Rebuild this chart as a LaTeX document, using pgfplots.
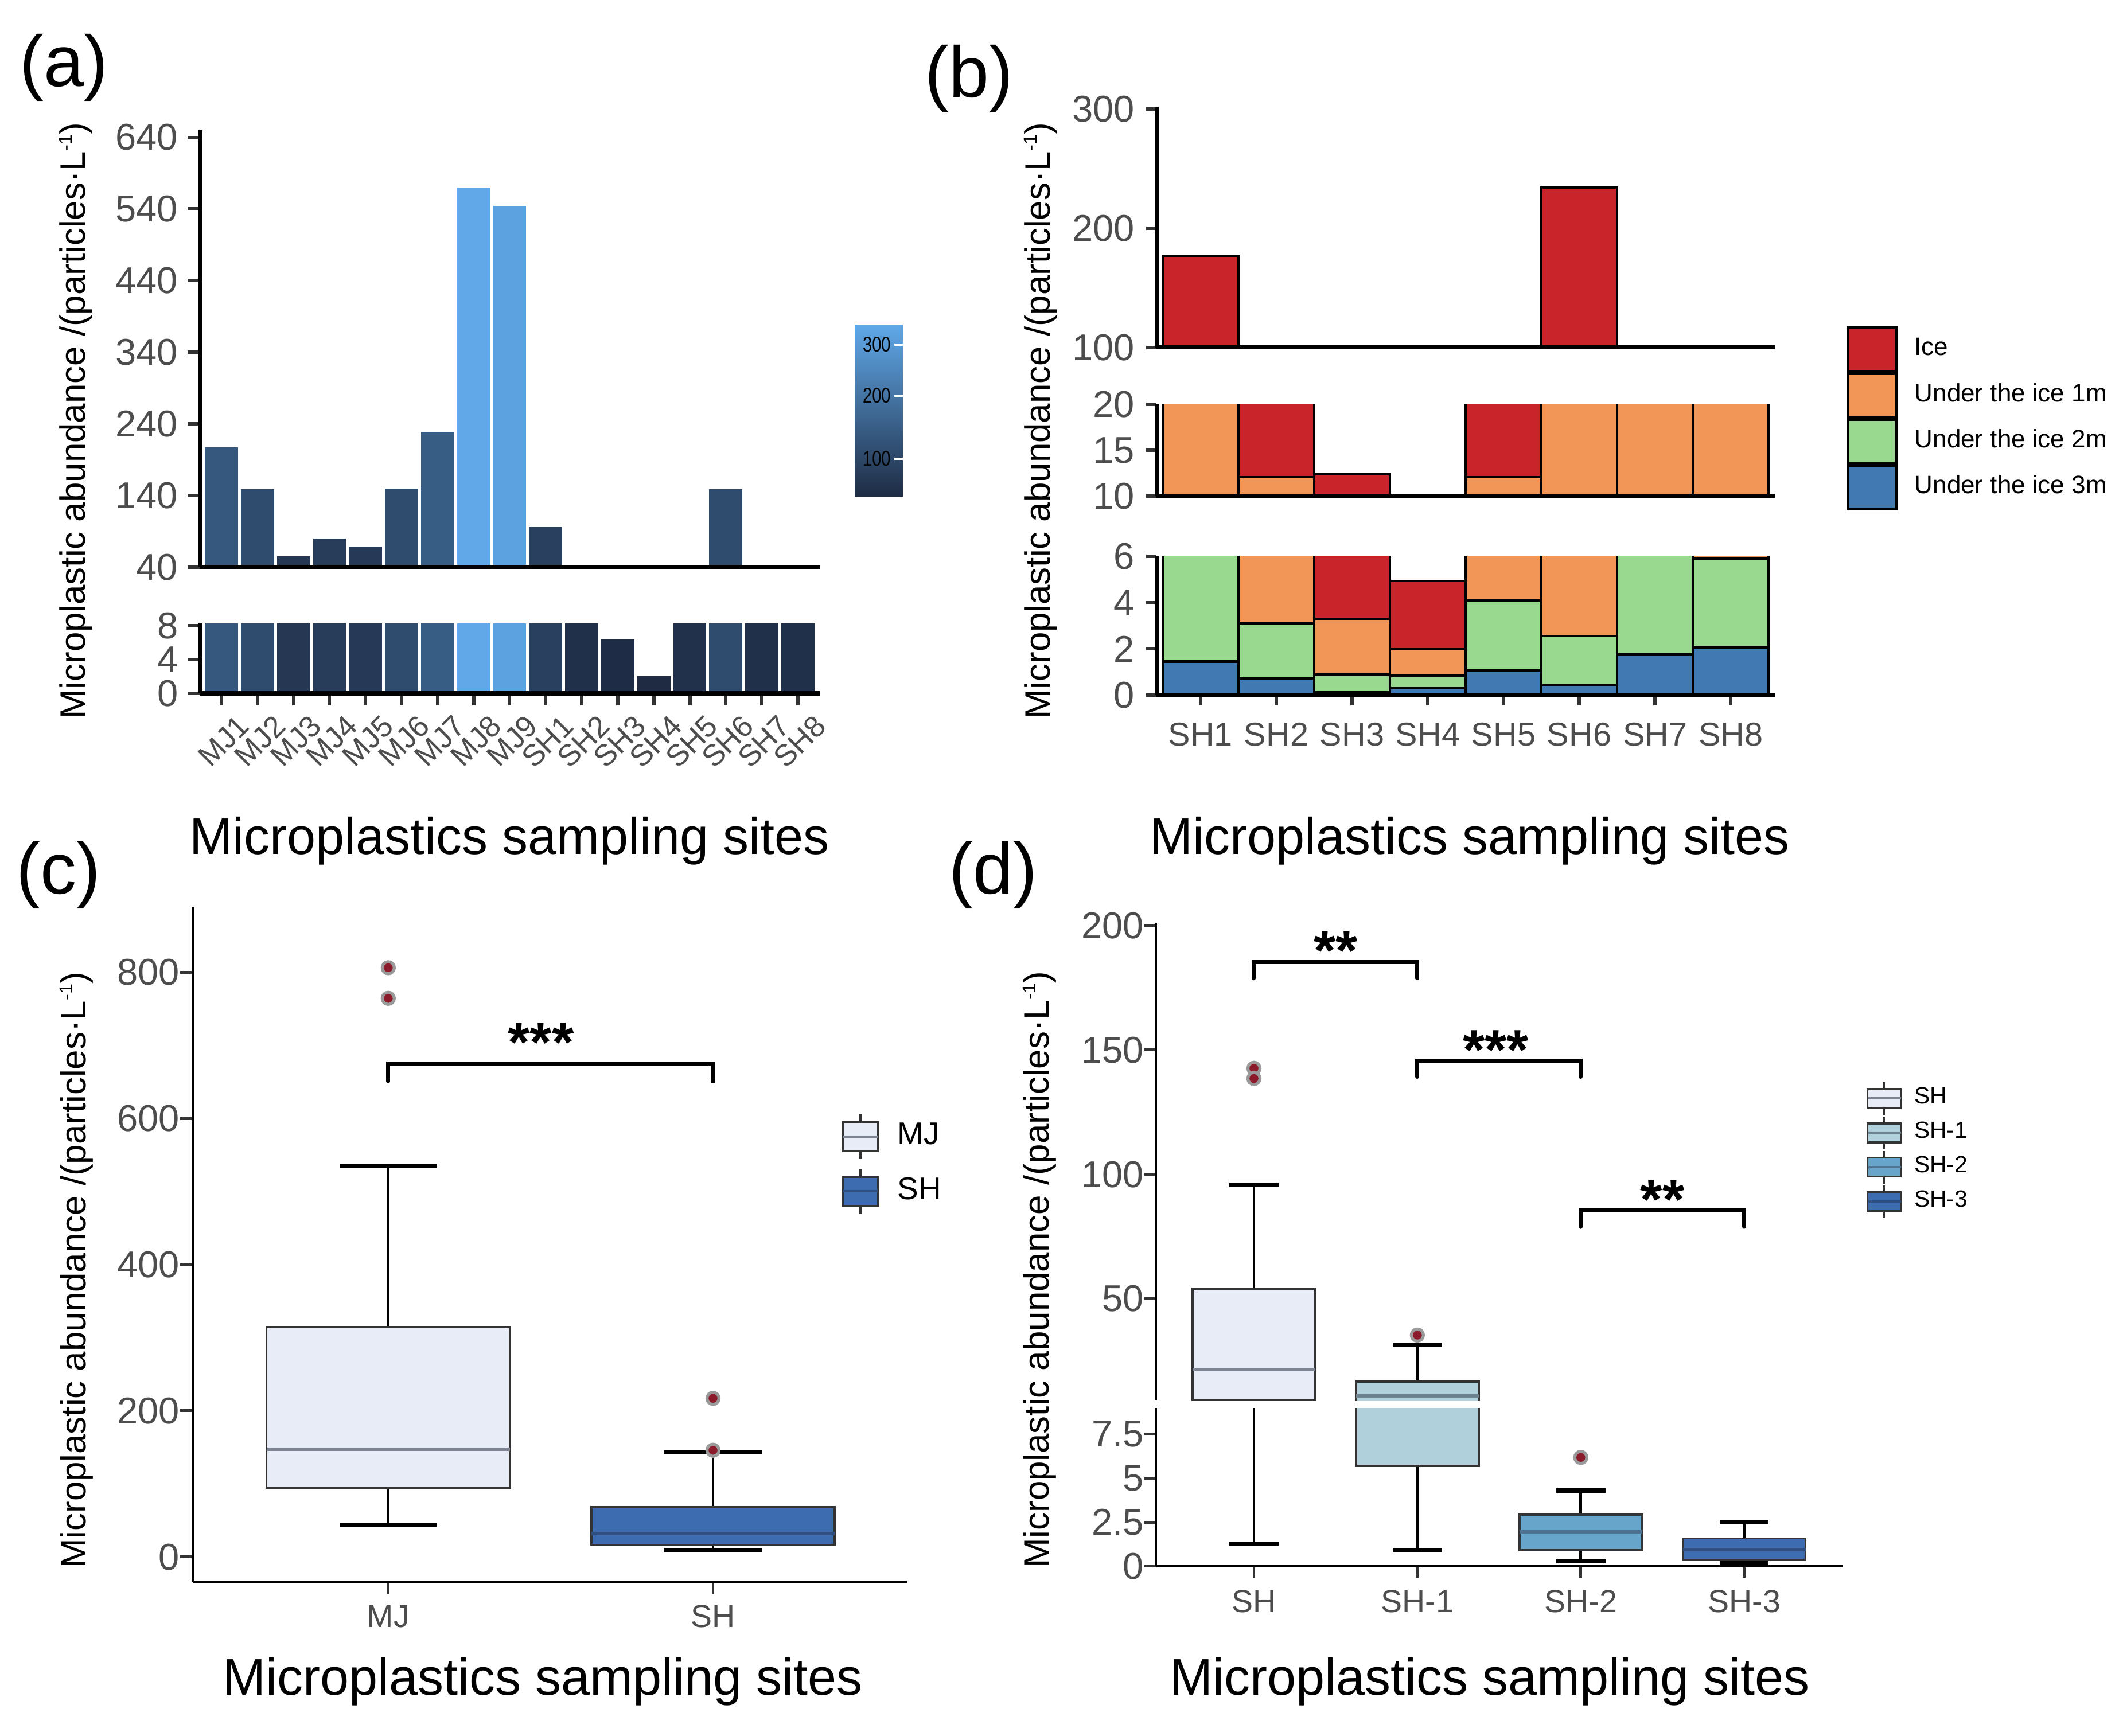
\documentclass[border=0pt]{standalone}
\usepackage{fontspec}
\setmainfont{Liberation Sans}
\newfontfamily\narrowsans{Liberation Sans}[FakeStretch=0.78]
\usepackage{pgfplots}
\pgfplotsset{compat=1.18}

\newcommand\fs[1]{\fontsize{#1}{#1}\selectfont}

\definecolor{tickgrey}{HTML}{4D4D4D}
\definecolor{tickmark}{HTML}{333333}
\definecolor{barlo}{RGB}{30,43,67}
\definecolor{barhi}{RGB}{96,168,232}
\definecolor{ice}{HTML}{C9242A}
\definecolor{m1}{HTML}{F19656}
\definecolor{m2}{HTML}{99D98F}
\definecolor{m3}{HTML}{417AB2}
\definecolor{boxedge}{HTML}{333333}
\definecolor{mjfill}{HTML}{E8ECF7}
\definecolor{mjmed}{HTML}{7E8492}
\definecolor{shfill}{HTML}{3E6CB1}
\definecolor{shmed}{HTML}{2E4F80}
\definecolor{sh1fill}{HTML}{B0D0DC}
\definecolor{sh1med}{HTML}{6D8390}
\definecolor{sh2fill}{HTML}{68A5CB}
\definecolor{sh2med}{HTML}{4E7290}
\definecolor{outred}{HTML}{8B1A2A}
\definecolor{outgrey}{HTML}{9A9A9A}

\pgfplotsset{
  panel/.style={
    scale only axis, anchor=south west,
    axis lines=left, axis on top,
    enlargelimits=false,
    every inner x axis line/.append style={-},
    every outer x axis line/.append style={-},
    every inner y axis line/.append style={-},
    every outer y axis line/.append style={-},
    axis line style={-, black},
    tick align=outside,
    major tick style={color=tickmark},
    ticklabel style={color=tickgrey},
    /pgf/number format/assume math mode=true,
  },
  heavy/.style={
    axis line style={line width=1pt},
    major tick style={line width=0.85pt},
    yticklabel style={font=\fs{9.25pt}, inner sep=0pt, xshift=-2.3pt},
  },
  light/.style={
    axis line style={line width=0.6pt},
    major tick style={line width=0.7pt},
    yticklabel style={font=\fs{9.25pt}, inner sep=0pt},
    xticklabel style={font=\fs{7.9pt}, inner sep=0pt},
  },
  outlier/.style={only marks, mark=*, mark size=1.5pt,
    mark options={fill=outred, draw=outgrey, line width=0.75pt, solid}, forget plot},
  % w, w/2, box h/2, whisker h/2, fill, median colour
  boxkey/.style n args={6}{legend image code/.code={
      \draw[tickmark, line width=0.45pt] (#2,-#4) -- (#2,#4);
      \draw[boxedge, fill=#5, line width=0.5pt] (0mm,-#3) rectangle (#1,#3);
      \draw[#6, line width=0.6pt] (0mm,0mm) -- (#1,0mm);}},
}

% one box: position, lower whisker, q1, median, q3, upper whisker, fill, median colour
\newcommand\bplot[8]{%
  \pgfmathsetmacro\bxl{#1-0.375}\pgfmathsetmacro\bxr{#1+0.375}%
  \pgfmathsetmacro\bcl{#1-0.15}\pgfmathsetmacro\bcr{#1+0.15}%
  \addplot[black, line width=0.7pt, forget plot] coordinates {(#1,#5) (#1,#6)};
  \addplot[black, line width=0.7pt, forget plot] coordinates {(#1,#2) (#1,#3)};
  \addplot[black, line width=1.1pt, forget plot] coordinates {(\bcl,#6) (\bcr,#6)};
  \addplot[black, line width=1.1pt, forget plot] coordinates {(\bcl,#2) (\bcr,#2)};
  \addplot[draw=boxedge, fill=#7, line width=0.55pt, forget plot]
    coordinates {(\bxl,#3) (\bxr,#3) (\bxr,#5) (\bxl,#5)} -- cycle;
  \addplot[draw=#8, line width=0.85pt, forget plot] coordinates {(\bxl,#4) (\bxr,#4)};
}

% panel (a): one bar per site, shade taken from its value (0-570)
\newcommand\abars{%
  \addplot[ybar, bar width=0.92, draw=none, fill=barhi!36!barlo] coordinates {(1,207)};
  \addplot[ybar, bar width=0.92, draw=none, fill=barhi!26!barlo] coordinates {(2,149)};
  \addplot[ybar, bar width=0.92, draw=none, fill=barhi!10!barlo] coordinates {(3,55)};
  \addplot[ybar, bar width=0.92, draw=none, fill=barhi!14!barlo] coordinates {(4,80)};
  \addplot[ybar, bar width=0.92, draw=none, fill=barhi!12!barlo] coordinates {(5,69)};
  \addplot[ybar, bar width=0.92, draw=none, fill=barhi!26!barlo] coordinates {(6,150)};
  \addplot[ybar, bar width=0.92, draw=none, fill=barhi!40!barlo] coordinates {(7,229)};
  \addplot[ybar, bar width=0.92, draw=none, fill=barhi!100!barlo] coordinates {(8,570)};
  \addplot[ybar, bar width=0.92, draw=none, fill=barhi!95!barlo] coordinates {(9,544)};
  \addplot[ybar, bar width=0.92, draw=none, fill=barhi!17!barlo] coordinates {(10,96)};
  \addplot[ybar, bar width=0.92, draw=none, fill=barhi!4!barlo] coordinates {(11,24)};
  \addplot[ybar, bar width=0.92, draw=none, fill=barhi!1!barlo] coordinates {(12,6.4)};
  \addplot[ybar, bar width=0.92, draw=none, fill=barhi!0!barlo] coordinates {(13,2)};
  \addplot[ybar, bar width=0.92, draw=none, fill=barhi!5!barlo] coordinates {(14,30)};
  \addplot[ybar, bar width=0.92, draw=none, fill=barhi!26!barlo] coordinates {(15,149)};
  \addplot[ybar, bar width=0.92, draw=none, fill=barhi!4!barlo] coordinates {(16,22)};
  \addplot[ybar, bar width=0.92, draw=none, fill=barhi!4!barlo] coordinates {(17,21)};
}

% panel (b): stacked layers, 3 m at the bottom, ice on top
\newcommand\bbars{%
  \addplot[fill=m3] coordinates {(1,1.45) (2,0.71) (3,0.12) (4,0.29) (5,1.07) (6,0.43) (7,1.76) (8,2.07)};
  \addplot[fill=m2] coordinates {(1,6.55) (2,2.39) (3,0.76) (4,0.54) (5,3.03) (6,2.12) (7,5.74) (8,3.83)};
  \addplot[fill=m1] coordinates {(1,37) (2,8.96) (3,2.41) (4,1.15) (5,7.96) (6,52.45) (7,32.5) (8,24.1)};
  \addplot[fill=ice] coordinates {(1,132) (2,25.94) (3,9.12) (4,2.95) (5,22.94) (6,179) (7,0) (8,0)};
}

% panel (d): the four boxes, drawn in both parts of the broken axis
\newcommand\dboxes{%
  \bplot{1}{1.29}{9.2}{21.5}{54.0}{95.9}{mjfill}{mjmed}
  \bplot{2}{0.91}{5.69}{11.0}{16.8}{31.5}{sh1fill}{sh1med}
  \bplot{3}{0.28}{0.91}{1.96}{2.92}{4.30}{sh2fill}{sh2med}
  \bplot{4}{0.16}{0.36}{0.94}{1.58}{2.51}{shfill}{shmed}
  \addplot[outlier] coordinates {(1,142.6) (1,138.5) (2,35.4) (3,6.18)};
}

\newcommand\ylab{Microplastic abundance /(particles·L\raisebox{3.3pt}{\fs{4.6pt}-1})}

\begin{document}
\begin{tikzpicture}
\path[use as bounding box] (0,0) rectangle (185.05mm,-151.35mm);

%%%%%%%%%%%%%%%% (a)
\begin{axis}[panel, heavy, at={(17.45mm,-49.45mm)}, width=54mm, height=38.1mm,
  major tick length=3.1pt,
  xmin=0.411, xmax=17.605, ymin=40, ymax=650,
  xtick=\empty, ytick={40,140,...,640}]
\abars
\end{axis}

\begin{axis}[panel, heavy, at={(17.45mm,-60.45mm)}, width=54mm, height=6.085mm,
  major tick length=3pt,
  xmin=0.411, xmax=17.605, ymin=0, ymax=8.25, ytick={0,4,8},
  xtick={1,...,17},
  xticklabels={MJ1,MJ2,MJ3,MJ4,MJ5,MJ6,MJ7,MJ8,MJ9,SH1,SH2,SH3,SH4,SH5,SH6,SH7,SH8},
  xticklabel style={font=\fs{7.45pt}, inner sep=0pt, xshift=3.7pt, yshift=-1.7pt,
    rotate=45, anchor=north east}]
\abars
\end{axis}

% colour key of panel (a)
\begin{axis}[scale only axis, anchor=south west, at={(74.5mm,-43.3mm)},
  width=4.2mm, height=14.95mm, axis on top,
  xmin=0, xmax=1, ymin=0, ymax=299, axis line style={draw=none},
  xtick=\empty, ytick={66,176,265}, yticklabels={100,200,300},
  ytick pos=right, yticklabel pos=right, tick align=inside, major tick length=2.1pt,
  major tick style={white, line width=0.6pt},
  yticklabel style={anchor=east, inner sep=0pt, xshift=-2.85pt,
    font=\narrowsans\fs{5.3pt}, color=black}]
\addplot[draw=none, bottom color=barlo, top color=barhi]
  coordinates {(0,0) (1,0) (1,299) (0,299)} -- cycle;
\end{axis}

%%%%%%%%%%%%%%%% (b)
\begin{axis}[panel, heavy, at={(100.8mm,-30.3mm)}, width=53.9mm, height=21mm,
  ybar stacked, bar width=1, major tick length=2.63pt,
  xmin=0.417, xmax=8.583, ymin=100, ymax=301.8, xtick=\empty, ytick={100,200,300},
  yticklabel style={xshift=-0.3pt},
  every axis plot/.append style={draw=black, line width=0.6pt}]
\bbars
\end{axis}

\begin{axis}[panel, heavy, at={(100.8mm,-43.25mm)}, width=53.9mm, height=8mm,
  ybar stacked, bar width=1, major tick length=2.63pt,
  xmin=0.417, xmax=8.583, ymin=10, ymax=20, xtick=\empty, ytick={10,15,20},
  yticklabel style={xshift=-0.3pt},
  every axis plot/.append style={draw=black, line width=0.6pt}]
\bbars
\end{axis}

\begin{axis}[panel, heavy, at={(100.8mm,-60.6mm)}, width=53.9mm, height=12.1mm,
  ybar stacked, bar width=1, major tick length=2.63pt,
  xmin=0.417, xmax=8.583, ymin=0, ymax=6, ytick={0,2,4,6},
  yticklabel style={xshift=-0.3pt},
  xtick={1,...,8}, xticklabels={SH1,SH2,SH3,SH4,SH5,SH6,SH7,SH8},
  xticklabel style={font=\fs{8.2pt}, inner sep=0pt, yshift=-4pt},
  every axis plot/.append style={draw=black, line width=0.6pt},
  reverse legend, legend cell align=left,
  legend image code/.code={\draw[#1, line width=0.6pt] (0mm,-1.9mm) rectangle (4.2mm,1.9mm);},
  legend style={at={(1.115,2.661)}, anchor=north west, draw=none, fill=none,
    inner sep=0pt, row sep=0pt, column sep=1.4mm, font=\fs{6.26pt},
    nodes={inner sep=0.3pt}}]
\bbars
\legend{Under the ice 3m, Under the ice 2m, Under the ice 1m, Ice}
\end{axis}

%%%%%%%%%%%%%%%% (c)
\begin{axis}[panel, light, at={(16.8mm,-137.9mm)}, width=62.25mm, height=58.855mm,
  major tick length=3.13pt,
  xmin=0.398, xmax=2.597, ymin=-34, ymax=890,
  xtick={1,2}, xticklabels={MJ,SH}, ytick={0,200,...,800},
  xticklabel style={yshift=-2.5pt},
  legend cell align=left,
  legend style={at={(0.9076,0.695)}, anchor=north west, draw=none, fill=none,
    inner sep=0pt, row sep=0.71mm, column sep=0.9mm, font=\fs{7.8pt}}]
\bplot{1}{43.4}{94.8}{147.7}{314.3}{535.4}{mjfill}{mjmed}
\bplot{2}{9}{16.6}{32.2}{67.8}{143}{shfill}{shmed}
\addplot[outlier] coordinates {(1,806.4) (1,764.5) (2,217) (2,146)};
\addplot[black, line width=1pt, line cap=round, forget plot]
  coordinates {(1,651) (1,675) (2,675) (2,651)};
\node[font=\fs{14pt}\bfseries, inner sep=0pt, anchor=base] at (axis cs:1.47,677.6) {***};
\addlegendimage{boxkey={3.05mm}{1.525mm}{1.25mm}{1.95mm}{mjfill}{mjmed}}
\addlegendentry{MJ}
\addlegendimage{boxkey={3.05mm}{1.525mm}{1.25mm}{1.95mm}{shfill}{shmed}}
\addlegendentry{SH}
\end{axis}

%%%%%%%%%%%%%%%% (d)
\begin{axis}[panel, light, at={(100.75mm,-122.1mm)}, width=59.9mm, height=41.65mm,
  axis x line=none, major tick length=2.85pt,
  xmin=0.4, xmax=4.605, ymin=9.1, ymax=201.1, xtick=\empty, ytick={50,100,150,200},
  legend cell align=left,
  legend style={at={(1.0326,0.670)}, anchor=north west, draw=none, fill=none,
    inner sep=0pt, row sep=0pt, column sep=1.0mm, font=\fs{5.8pt},
    nodes={inner sep=0.2pt}}]
\dboxes
\addplot[black, line width=1pt, line cap=round, forget plot]
  coordinates {(1,178.8) (1,185.4) (2,185.4) (2,178.8)};
\addplot[black, line width=1pt, line cap=round, forget plot]
  coordinates {(2,139.2) (2,145.7) (3,145.7) (3,139.2)};
\addplot[black, line width=1pt, line cap=round, forget plot]
  coordinates {(3,78.9) (3,85.8) (4,85.8) (4,78.9)};
\node[font=\fs{14pt}\bfseries, inner sep=0pt, anchor=base] at (axis cs:1.5,182) {**};
\node[font=\fs{14pt}\bfseries, inner sep=0pt, anchor=base] at (axis cs:2.48,142.2) {***};
\node[font=\fs{14pt}\bfseries, inner sep=0pt, anchor=base] at (axis cs:3.5,82.1) {**};
\addlegendimage{boxkey={2.9mm}{1.45mm}{0.825mm}{1.42mm}{mjfill}{mjmed}}
\addlegendentry{SH}
\addlegendimage{boxkey={2.9mm}{1.45mm}{0.825mm}{1.42mm}{sh1fill}{sh1med}}
\addlegendentry{SH-1}
\addlegendimage{boxkey={2.9mm}{1.45mm}{0.825mm}{1.42mm}{sh2fill}{sh2med}}
\addlegendentry{SH-2}
\addlegendimage{boxkey={2.9mm}{1.45mm}{0.825mm}{1.42mm}{shfill}{shmed}}
\addlegendentry{SH-3}
\end{axis}

\begin{axis}[panel, light, at={(100.75mm,-136.55mm)}, width=59.9mm, height=13.8mm,
  major tick length=2.85pt,
  xmin=0.4, xmax=4.605, ymin=0, ymax=8.99, ytick={0,2.5,5,7.5},
  xtick={1,2,3,4}, xticklabels={SH,SH-1,SH-2,SH-3},
  xticklabel style={yshift=-2.85pt}]
\dboxes
\end{axis}

%%%%%%%%%%%%%%%% titles and labels
\begin{scope}[every node/.style={inner sep=0pt}]
\node[anchor=base west, font=\fs{17.9pt}] at (1.65mm,-7.55mm) {(a)};
\node[anchor=base west, font=\fs{17.9pt}] at (80.55mm,-8.5mm) {(b)};
\node[anchor=base west, font=\fs{17.9pt}] at (1.35mm,-77.95mm) {(c)};
\node[anchor=base west, font=\fs{17.9pt}] at (82.65mm,-77.95mm) {(d)};
\node[anchor=base, font=\fs{12.8pt}] at (44.4mm,-74.5mm) {Microplastics sampling sites};
\node[anchor=base, font=\fs{12.8pt}] at (128.1mm,-74.5mm) {Microplastics sampling sites};
\node[anchor=base, font=\fs{12.8pt}] at (47.3mm,-147.75mm) {Microplastics sampling sites};
\node[anchor=base, font=\fs{12.8pt}] at (129.85mm,-147.75mm) {Microplastics sampling sites};
\node[rotate=90, font=\fs{8.8pt}] at (6.6mm,-36.7mm) {\ylab};
\node[rotate=90, font=\fs{8.8pt}] at (90.7mm,-36.7mm) {\ylab};
\node[rotate=90, font=\fs{8.8pt}] at (6.65mm,-110.75mm) {\ylab};
\node[rotate=90, font=\fs{8.8pt}] at (90.6mm,-110.7mm) {\ylab};
\end{scope}
\end{tikzpicture}
\end{document}
